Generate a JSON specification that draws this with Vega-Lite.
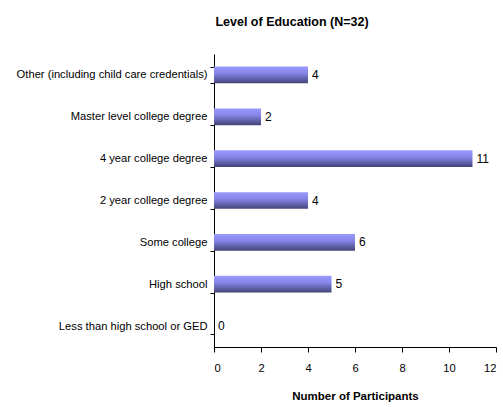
{
  "$schema": "https://vega.github.io/schema/vega-lite/v6.json",
  "width": 282,
  "height": 293,
  "autosize": "none",
  "padding": {"left": 214, "top": 54, "right": 7, "bottom": 60},
  "background": "white",
  "title": {
    "text": "Level of Education (N=32)",
    "font": "Liberation Sans",
    "fontSize": 12.5,
    "fontWeight": "bold",
    "anchor": "middle",
    "dx": -63,
    "offset": 20,
    "color": "black"
  },
  "data": {
    "values": [
      {"level": "Other (including child care credentials)", "n": 4},
      {"level": "Master level college degree", "n": 2},
      {"level": "4 year college degree", "n": 11},
      {"level": "2 year college degree", "n": 4},
      {"level": "Some college", "n": 6},
      {"level": "High school", "n": 5},
      {"level": "Less than high school or GED", "n": 0}
    ]
  },
  "config": {
    "view": {"stroke": null},
    "axis": {
      "labelFont": "Liberation Sans",
      "labelFontSize": 11.2,
      "labelColor": "black",
      "titleFont": "Liberation Sans",
      "titleFontSize": 11.5,
      "titleColor": "black",
      "domainColor": "black",
      "tickColor": "black",
      "grid": false
    }
  },
  "encoding": {
    "y": {
      "field": "level",
      "type": "nominal",
      "sort": null,
      "scale": {"paddingInner": 0.6, "paddingOuter": 0.3},
      "axis": {
        "title": null,
        "tickBand": "extent",
        "tickSize": 4,
        "labelPadding": 3,
        "labelLimit": 300
      }
    },
    "x": {
      "field": "n",
      "type": "quantitative",
      "scale": {"domain": [0, 12]},
      "axis": {
        "title": "Number of Participants",
        "titleFontWeight": "bold",
        "titlePadding": 17,
        "values": [0, 2, 4, 6, 8, 10, 12],
        "tickSize": 5,
        "labelPadding": 10
      }
    }
  },
  "layer": [
    {
      "mark": {
        "type": "bar",
        "color": {
          "gradient": "linear",
          "x1": 0, "y1": 0, "x2": 0, "y2": 1,
          "stops": [
            {"offset": 0, "color": "#9a9aff"},
            {"offset": 0.4, "color": "#8686e8"},
            {"offset": 1, "color": "#434378"}
          ]
        }
      }
    },
    {
      "mark": {
        "type": "text",
        "align": "left",
        "dx": 4,
        "font": "Liberation Sans",
        "fontSize": 12,
        "color": "black"
      },
      "encoding": {"text": {"field": "n", "type": "quantitative"}}
    }
  ]
}
